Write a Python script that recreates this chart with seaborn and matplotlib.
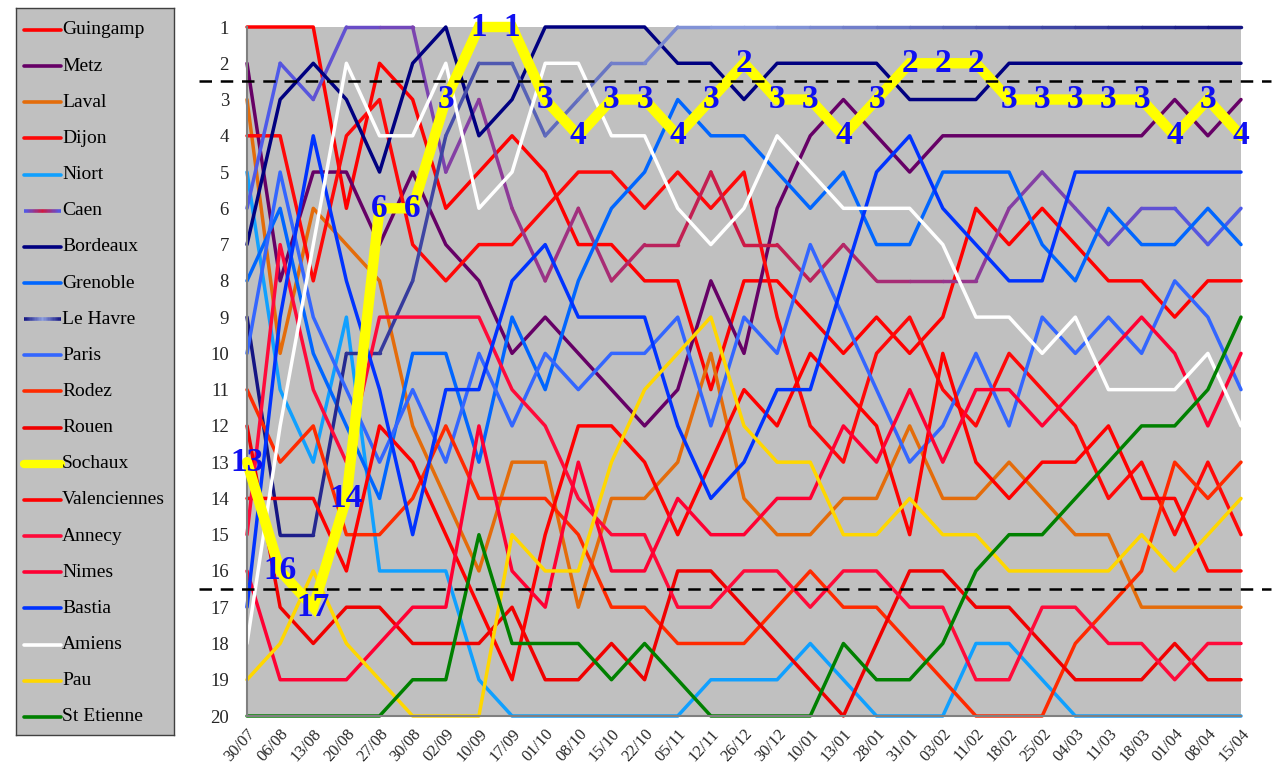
import matplotlib
matplotlib.use("Agg")
import numpy as np
import pandas as pd
import matplotlib.pyplot as plt
import seaborn as sns
from matplotlib.collections import LineCollection
from matplotlib.colors import to_rgb

# ---------------- data ----------------
dates = ["30/07", "06/08", "13/08", "20/08", "27/08", "30/08", "02/09", "10/09",
         "17/09", "01/10", "08/10", "15/10", "22/10", "05/11", "12/11", "26/12",
         "30/12", "10/01", "13/01", "28/01", "31/01", "03/02", "11/02", "18/02",
         "25/02", "04/03", "11/03", "18/03", "01/04", "08/04", "15/04"]

teams = ["Guingamp", "Metz", "Laval", "Dijon", "Niort", "Caen", "Bordeaux", "Grenoble",
         "Le Havre", "Paris", "Rodez", "Rouen", "Sochaux", "Valenciennes", "Annecy",
         "Nimes", "Bastia", "Amiens", "Pau", "St Etienne"]

guingamp = [1, 1, 1, 6, 2, 3, 6, 5, 4, 5, 7, 7, 8, 8, 11, 8, 8, 9, 10, 9, 10, 9, 6, 7, 6, 7, 8, 8, 9, 8, 8]
metz = [2, 8, 5, 5, 7, 5, 7, 8, 10, 9, 10, 11, 12, 11, 8, 10, 6, 4, 3, 4, 5, 4, 4, 4, 4, 4, 4, 4, 3, 4, 3]
laval = [3, 10, 6, 7, 8, 12, 14, 16, 13, 13, 17, 14, 14, 13, 10, 14, 15, 15, 14, 14, 12, 14, 14, 13, 14, 15, 15, 17, 17, 17, 17]
dijon = [4, 4, 8, 4, 3, 7, 8, 7, 7, 6, 5, 5, 6, 5, 6, 5, 9, 12, 13, 10, 9, 11, 12, 10, 11, 12, 14, 13, 15, 13, 15]
niort = [5, 11, 13, 9, 16, 16, 16, 19, 20, 20, 20, 20, 20, 20, 19, 19, 19, 18, 19, 20, 20, 20, 18, 18, 19, 20, 20, 20, 20, 20, 20]
caen = [6, 2, 3, 1, 1, 1, 5, 3, 6, 8, 6, 8, 7, 7, 5, 7, 7, 8, 7, 8, 8, 8, 8, 6, 5, 6, 7, 6, 6, 7, 6]
bordeaux = [7, 3, 2, 3, 5, 2, 1, 4, 3, 1, 1, 1, 1, 2, 2, 3, 2, 2, 2, 2, 3, 3, 3, 2, 2, 2, 2, 2, 2, 2, 2]
grenoble = [8, 6, 10, 12, 14, 10, 10, 13, 9, 11, 8, 6, 5, 3, 4, 4, 5, 6, 5, 7, 7, 5, 5, 5, 7, 8, 6, 7, 7, 6, 7]
le_havre = [9, 15, 15, 10, 10, 8, 4, 2, 2, 4, 3, 2, 2, 1, 1, 1, 1, 1, 1, 1, 1, 1, 1, 1, 1, 1, 1, 1, 1, 1, 1]
paris = [10, 5, 9, 11, 13, 11, 13, 10, 12, 10, 11, 10, 10, 9, 12, 9, 10, 7, 9, 11, 13, 12, 10, 12, 9, 10, 9, 10, 8, 9, 11]
rodez = [11, 13, 12, 15, 15, 14, 12, 14, 14, 14, 15, 17, 17, 18, 18, 18, 17, 16, 17, 17, 18, 19, 20, 20, 20, 18, 17, 16, 13, 14, 13]
rouen = [12, 17, 18, 17, 17, 18, 18, 18, 17, 19, 19, 18, 19, 16, 16, 17, 18, 19, 20, 18, 16, 16, 17, 17, 18, 19, 19, 19, 18, 19, 19]
sochaux = [13, 16, 17, 14, 6, 6, 3, 1, 1, 3, 4, 3, 3, 4, 3, 2, 3, 3, 4, 3, 2, 2, 2, 3, 3, 3, 3, 3, 4, 3, 4]
valenciennes = [14, 14, 14, 16, 12, 13, 15, 17, 19, 15, 12, 12, 13, 15, 13, 11, 12, 10, 11, 12, 15, 10, 13, 14, 13, 13, 12, 14, 14, 16, 16]
annecy = [15, 7, 11, 13, 9, 9, 9, 9, 11, 12, 14, 15, 15, 17, 17, 16, 16, 17, 16, 16, 17, 17, 19, 19, 17, 17, 18, 18, 19, 18, 18]
nimes = [16, 19, 19, 19, 18, 17, 17, 12, 16, 17, 13, 16, 16, 14, 15, 15, 14, 14, 12, 13, 11, 13, 11, 11, 12, 11, 10, 9, 10, 12, 10]
bastia = [17, 9, 4, 8, 11, 15, 11, 11, 8, 7, 9, 9, 9, 12, 14, 13, 11, 11, 8, 5, 4, 6, 7, 8, 8, 5, 5, 5, 5, 5, 5]
amiens = [18, 12, 7, 2, 4, 4, 2, 6, 5, 2, 2, 4, 4, 6, 7, 6, 4, 5, 6, 6, 6, 7, 9, 9, 10, 9, 11, 11, 11, 10, 12]
pau = [19, 18, 16, 18, 19, 20, 20, 20, 15, 16, 16, 13, 11, 10, 9, 12, 13, 13, 15, 15, 14, 15, 15, 16, 16, 16, 16, 15, 16, 15, 14]
st_etienne = [20, 20, 20, 20, 20, 19, 19, 15, 18, 18, 18, 19, 18, 19, 20, 20, 20, 20, 18, 19, 19, 18, 16, 15, 15, 14, 13, 12, 12, 11, 9]

ranks = [guingamp, metz, laval, dijon, niort, caen, bordeaux, grenoble, le_havre, paris,
         rodez, rouen, sochaux, valenciennes, annecy, nimes, bastia, amiens, pau, st_etienne]

colors = {"Guingamp": "#ff0000", "Metz": "#660066", "Laval": "#e46c0a", "Dijon": "#ff0808",
          "Niort": "#10a0ff", "Caen": "#c02050", "Bordeaux": "#000080", "Grenoble": "#0066ff",
          "Le Havre": "#6070c0", "Paris": "#3366ff", "Rodez": "#ff2a00", "Rouen": "#f00000",
          "Sochaux": "#ffff00", "Valenciennes": "#ff0000", "Annecy": "#ff0a3a",
          "Nimes": "#ff0033", "Bastia": "#0033ff", "Amiens": "#ffffff", "Pau": "#ffd700",
          "St Etienne": "#008000"}
gradients = {"Caen": ["#4a5cf0", "#d01840", "#4a5cf0"],
             "Le Havre": ["#101080", "#8ea0e0", "#101080"]}

# ---------------- build table ----------------
rows = []
for t, r in zip(teams, ranks):
    for i, v in enumerate(r):
        rows.append({"idx": i, "rank": v, "team": t})
df = pd.DataFrame(rows)

sns.set_style("white")
plt.rcParams["font.family"] = ["Liberation Serif", "DejaVu Serif"]

W, H = 1280, 780
fig = plt.figure(figsize=(W / 100, H / 100), dpi=100)
fig.patch.set_facecolor("white")
ax = fig.add_axes([247 / W, 1 - 716 / H, 994 / W, 689 / H])
ax.set_facecolor("#c0c0c0")


def grad_color(stops, f):
    cs = [np.array(to_rgb(c)) for c in stops]
    if f <= 0.5:
        g = f / 0.5
        return tuple(cs[0] * (1 - g) + cs[1] * g)
    g = (f - 0.5) / 0.5
    return tuple(cs[1] * (1 - g) + cs[2] * g)


n = len(dates)
for t in teams:
    if t == "Sochaux":
        continue
    sub = df[df.team == t]
    if t in gradients:
        xs = sub["idx"].to_numpy()
        ys = sub["rank"].to_numpy()
        segs = [[(xs[k], ys[k]), (xs[k + 1], ys[k + 1])] for k in range(len(xs) - 1)]
        cols = [grad_color(gradients[t], (k + 0.5) / (n - 1)) for k in range(len(xs) - 1)]
        lc = LineCollection(segs, colors=cols, linewidths=2.5, capstyle="round",
                            joinstyle="round", clip_on=False, zorder=2)
        ax.add_collection(lc)
    else:
        sns.lineplot(data=sub, x="idx", y="rank", color=colors[t], linewidth=2.5,
                     sort=False, estimator=None, legend=False, ax=ax, zorder=2,
                     clip_on=False)

soc = df[df.team == "Sochaux"]
sns.lineplot(data=soc, x="idx", y="rank", color=colors["Sochaux"], linewidth=7.5,
             sort=False, estimator=None, legend=False, ax=ax, zorder=4, clip_on=False,
             solid_joinstyle="miter")
for i, v in zip(soc["idx"], soc["rank"]):
    ax.text(i, v, str(v), ha="center", va="center", color="#1010f0", fontsize=24,
            fontweight="bold", zorder=6)

# dashed separators
for yv in (2.5, 16.5):
    ax.axhline(yv, xmin=-0.048, xmax=1.03, color="black", linewidth=1.8,
               linestyle=(0, (5, 3.5)), clip_on=False, zorder=5)

ax.set_xlim(0, n - 1)
ax.set_ylim(20, 1)
ax.set_yticks(range(1, 21))
ax.set_yticklabels([str(k) for k in range(1, 21)], fontsize=13.5)
ax.set_xticks(range(n))
ax.set_xticklabels(dates, rotation=48, ha="right", va="top", rotation_mode="anchor",
                   fontsize=12)
ax.set_xlabel("")
ax.set_ylabel("")
ax.tick_params(axis="both", direction="out", length=4, width=1, color="#707070",
               pad=3)
ax.tick_params(axis="y", pad=9)
for s in ("top", "right"):
    ax.spines[s].set_visible(False)
for s in ("left", "bottom"):
    ax.spines[s].set_color("#808080")
    ax.spines[s].set_linewidth(1.5)

# ---------------- legend box ----------------
lax = fig.add_axes([16 / W, 1 - 735 / H, 158 / W, 727 / H])
lax.set_facecolor("#c0c0c0")
lax.set_xlim(16, 174)
lax.set_ylim(735, 8)
lax.set_xticks([])
lax.set_yticks([])
for s in lax.spines.values():
    s.set_color("#404040")
    s.set_linewidth(1.0)
for k, t in enumerate(teams):
    yy = 30 + 36.15 * k
    lw = 6 if t == "Sochaux" else 2.6
    if t in gradients:
        xs = np.linspace(24, 61, 30)
        segs = [[(xs[j], yy), (xs[j + 1], yy)] for j in range(len(xs) - 1)]
        cols = [grad_color(gradients[t], (j + 0.5) / (len(xs) - 1)) for j in range(len(xs) - 1)]
        lax.add_collection(LineCollection(segs, colors=cols, linewidths=lw))
    else:
        lax.plot([24, 61], [yy, yy], color=colors[t], linewidth=lw, solid_capstyle="round")
    lax.text(62, yy, t, ha="left", va="center", fontsize=14, color="black")

fig.savefig("out.png", dpi=100, facecolor="white")
